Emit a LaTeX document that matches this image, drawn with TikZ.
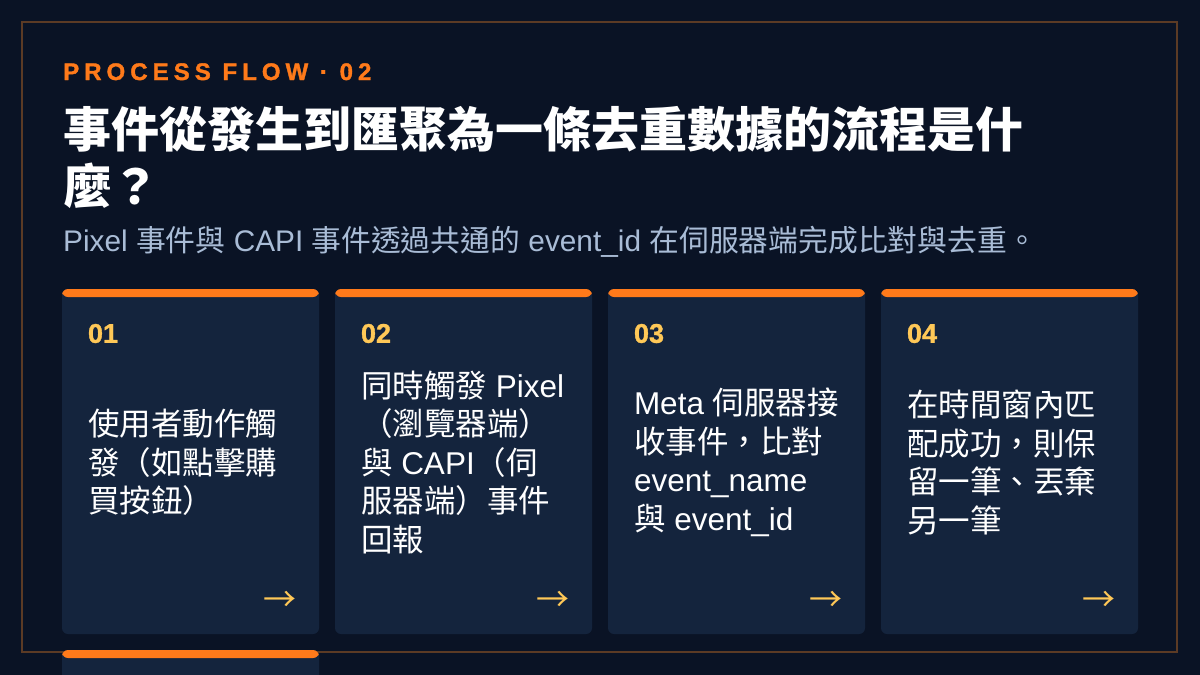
\documentclass[tikz,border=0pt]{standalone}
\usepackage{fontspec}
\setmainfont{Liberation Sans}
\newfontfamily\cjk{Noto Sans CJK TC}
\newfontfamily\kickfont[LetterSpace=21,BoldFeatures={FakeBold=1.5}]{Liberation Sans}
\newfontfamily\heavy[BoldFeatures={FakeBold=1.2}]{Liberation Sans}
\newcommand{\zh}[1]{{\cjk #1}}
\definecolor{pagebg}{HTML}{0A1325}
\definecolor{cardbg}{HTML}{14243D}
\definecolor{accent}{HTML}{FF7A1A}
\definecolor{gold}{HTML}{FFC857}
\definecolor{subtext}{HTML}{A9BCD6}
\definecolor{framec}{HTML}{5C3B25}

\begin{document}
\begin{tikzpicture}[x=1pt,y=-1pt,
    card/.style={fill=cardbg, rounded corners=6pt, inner sep=0pt,
      minimum width=257pt, minimum height=345pt,
      path picture={\fill[accent] (path picture bounding box.north west)
        rectangle ([yshift=-8pt]path picture bounding box.north east);}},
    num/.style={anchor=base west, inner sep=0pt, text=gold,
      font=\heavy\fontsize{27}{27}\selectfont\bfseries},
    body/.style={anchor=west, inner sep=0pt, text=white, align=left,
      font=\fontsize{31.5}{38.5}\selectfont},
    go/.style={anchor=east, inner sep=0pt, text=gold,
      font=\cjk\fontsize{33}{33}\selectfont}]
  \clip (0,0) rectangle (1200,675);
  \fill[pagebg] (0,0) rectangle (1200,675);
  \draw[framec, line width=1.5pt] (22,22) rectangle (1177,652);

  % heading
  \node[anchor=base west, inner sep=0pt, text=accent,
    font=\kickfont\fontsize{24}{24}\selectfont\bfseries] (kicker) at (63,80) {PROCESS FLOW · 02};
  \node[anchor=north west, inner sep=0pt, text=white, align=left,
    font=\cjk\fontsize{48}{57}\selectfont\bfseries] (title) at (63,106)
    {事件從發生到匯聚為一條去重數據的流程是什\\麼？};
  \node[anchor=base west, inner sep=0pt, text=subtext,
    font=\fontsize{29.8}{29.8}\selectfont] (sub) at (63,251)
    {Pixel \zh{事件與} CAPI \zh{事件透過共通的} event\_id \zh{在伺服器端完成比對與去重。}};

  % cards
  \foreach \i/\x in {1/190.5, 2/463.5, 3/736.5, 4/1009.5} {
    \node[card] (c\i) at (\x,461.5) {};
    \node[num] (n\i) at ([xshift=26pt,yshift=-54pt]c\i.north west) {0\i};
    \node[go] (a\i) at ([xshift=-23pt,yshift=33pt]c\i.south east) {→};
  }
  \node[card] (c5) at (190.5,822.5) {};

  \node[body] (t1) at ([xshift=26pt,yshift=-1pt]c1.west)
    {\zh{使用者動作觸}\\\zh{發（如點擊購}\\\zh{買按鈕）}};
  \node[body] (t2) at ([xshift=26pt,yshift=-1pt]c2.west)
    {\zh{同時觸發} Pixel\\\zh{（瀏覽器端）}\\\zh{與} CAPI\zh{（伺}\\\zh{服器端）事件}\\\zh{回報}};
  \node[body] (t3) at ([xshift=26pt,yshift=-1pt]c3.west)
    {Meta \zh{伺服器接}\\\zh{收事件，比對}\\event\_name\\\zh{與} event\_id};
  \node[body] (t4) at ([xshift=26pt,yshift=-1pt]c4.west)
    {\zh{在時間窗內匹}\\\zh{配成功，則保}\\\zh{留一筆、丟棄}\\\zh{另一筆}};
\end{tikzpicture}
\end{document}
